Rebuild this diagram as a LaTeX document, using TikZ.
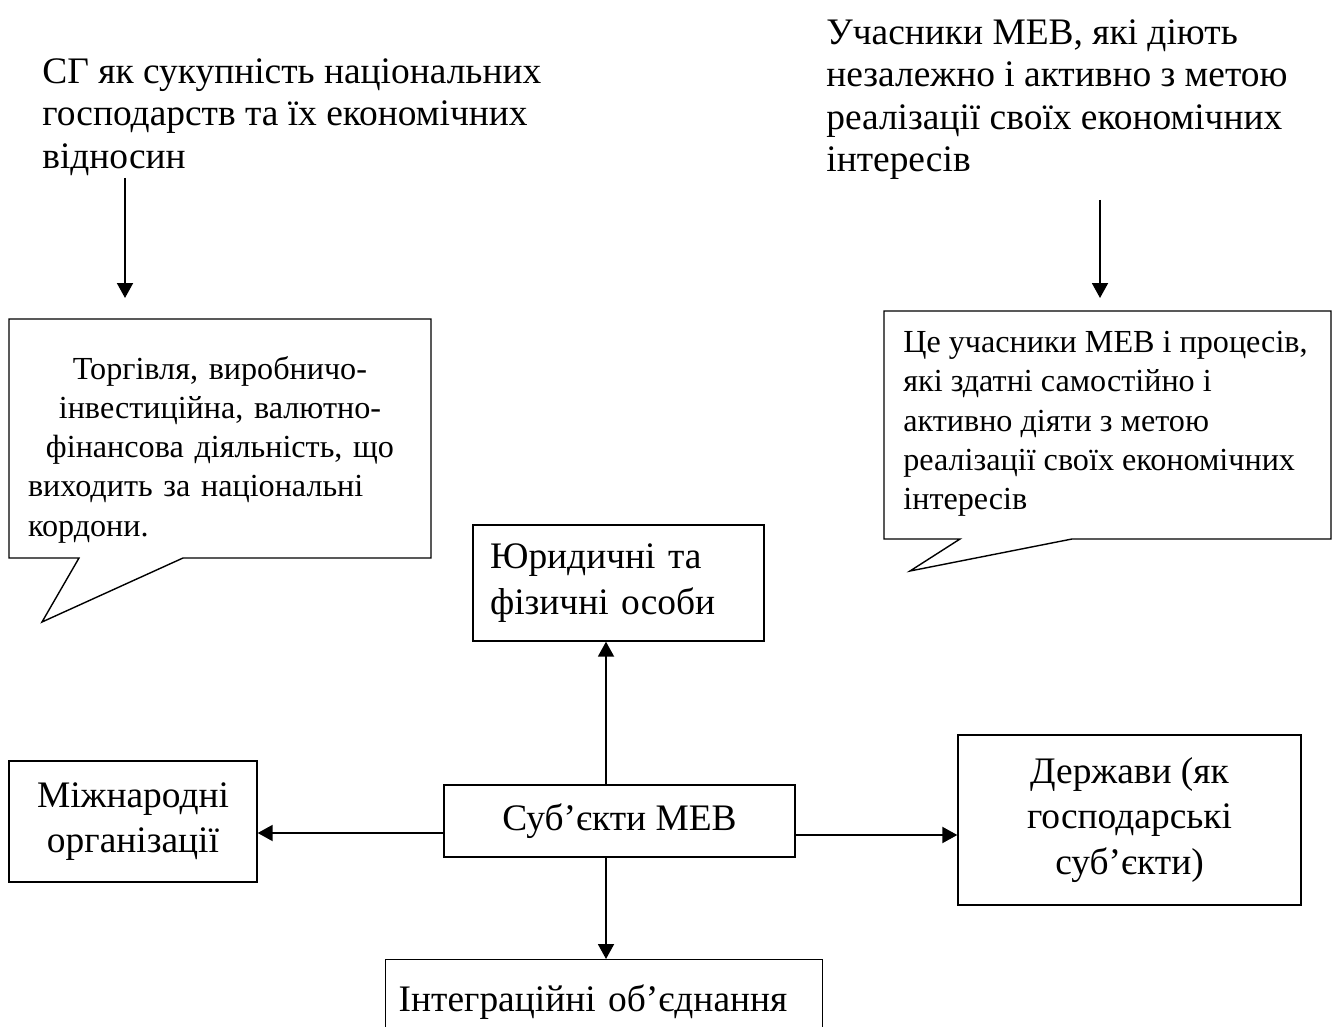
\documentclass[tikz,border=0pt]{standalone}
\usepackage{fontspec}
\setmainfont{Liberation Serif}
\usetikzlibrary{arrows.meta}
\newcommand{\txtbig}{\fontsize{21.3}{24.2}\selectfont}
\newcommand{\txtsmall}{\fontsize{18.3}{22.3}\selectfont}
\newcommand{\txtbox}{\fontsize{21.3}{26}\selectfont}
\tikzset{
  box/.style={draw=black, line width=0.8pt, inner sep=0pt, align=center, font=\txtbox},
  bubble/.style={draw=black, line width=0.8pt, line join=miter},
  arr/.style={line width=1.1pt, -{Triangle[width=0.32cm,length=0.3cm]}},
  headtext/.style={anchor=north west, align=left, inner sep=0pt, font=\txtbig},
  bubbletext/.style={inner sep=0pt, font=\txtsmall},
}

\begin{document}
\begin{tikzpicture}[x=0.02cm, y=-0.02cm]
\useasboundingbox (0,0) rectangle (1335,1027);
\clip (0,0) rectangle (1335,1027);
% headings
\node[headtext] (sg) at (42,58) {СГ як сукупність національних\\господарств та їх економічних\\відносин};
\node[headtext] (part) at (826,19) {Учасники МЕВ, які діють\\незалежно і активно з метою\\реалізації своїх економічних\\інтересів};
\coordinate (sgfrom) at (125,178);
\coordinate (sgto) at (125,298);
\coordinate (partfrom) at (1100,200);
\coordinate (partto) at (1100,298);
\draw[arr] (sgfrom) -- (sgto);
\draw[arr] (partfrom) -- (partto);
% callouts
\draw[bubble] (9,319) -- (431,319) -- (431,558) -- (183,558) -- (42,622) -- (79,558) -- (9,558) -- cycle;
\node[bubbletext, anchor=north, text width=7.68cm] (trade) at (220,356)
  {\centering Торгівля, виробничо-\\інвестиційна, валютно-\\фінансова діяльність, що\par
   \raggedright виходить за національні\\кордони.\par};
\draw[bubble] (884,311) -- (1331,311) -- (1331,539) -- (1072,539) -- (910,571) -- (960,539) -- (884,539) -- cycle;
\node[bubbletext, anchor=north west, align=left] (ability) at (903,331)
  {Це учасники МЕВ і процесів,\\які здатні самостійно і\\активно діяти з метою\\реалізації своїх економічних\\інтересів};
% boxes
\node[box, align=left, text width=5.14cm, inner xsep=0.34cm, minimum height=2.32cm] (jur) at (618.5,583) {Юридичні та\\фізичні особи};
\node[box, minimum width=7.02cm, minimum height=1.44cm] (subj) at (619.5,821) {Суб’єкти МЕВ};
\node[box, minimum width=4.96cm, minimum height=2.42cm] (org) at (133,821.5) {Міжнародні\\організації};
\node[box, minimum width=6.86cm, minimum height=3.4cm] (state) at (1129.5,820) {Держави (як\\господарські\\суб’єкти)};
\node[box, anchor=north west, align=left, text width=8.22cm, inner xsep=0.26cm, minimum height=1.7cm] (integr) at (385,959) {Інтеграційні об’єднання};
% connectors
\draw[arr] ([xshift=-0.27cm]subj.north) -- ([xshift=-0.27cm]subj.north |- jur.south);
\draw[arr] ([xshift=-0.27cm]subj.south) -- ([xshift=-0.27cm]subj.south |- integr.north);
\draw[arr] ([yshift=-0.24cm]subj.west) -- ([yshift=-0.24cm]subj.west -| org.east);
\draw[arr] ([yshift=-0.28cm]subj.east) -- ([yshift=-0.28cm]subj.east -| state.west);
\end{tikzpicture}
\end{document}
